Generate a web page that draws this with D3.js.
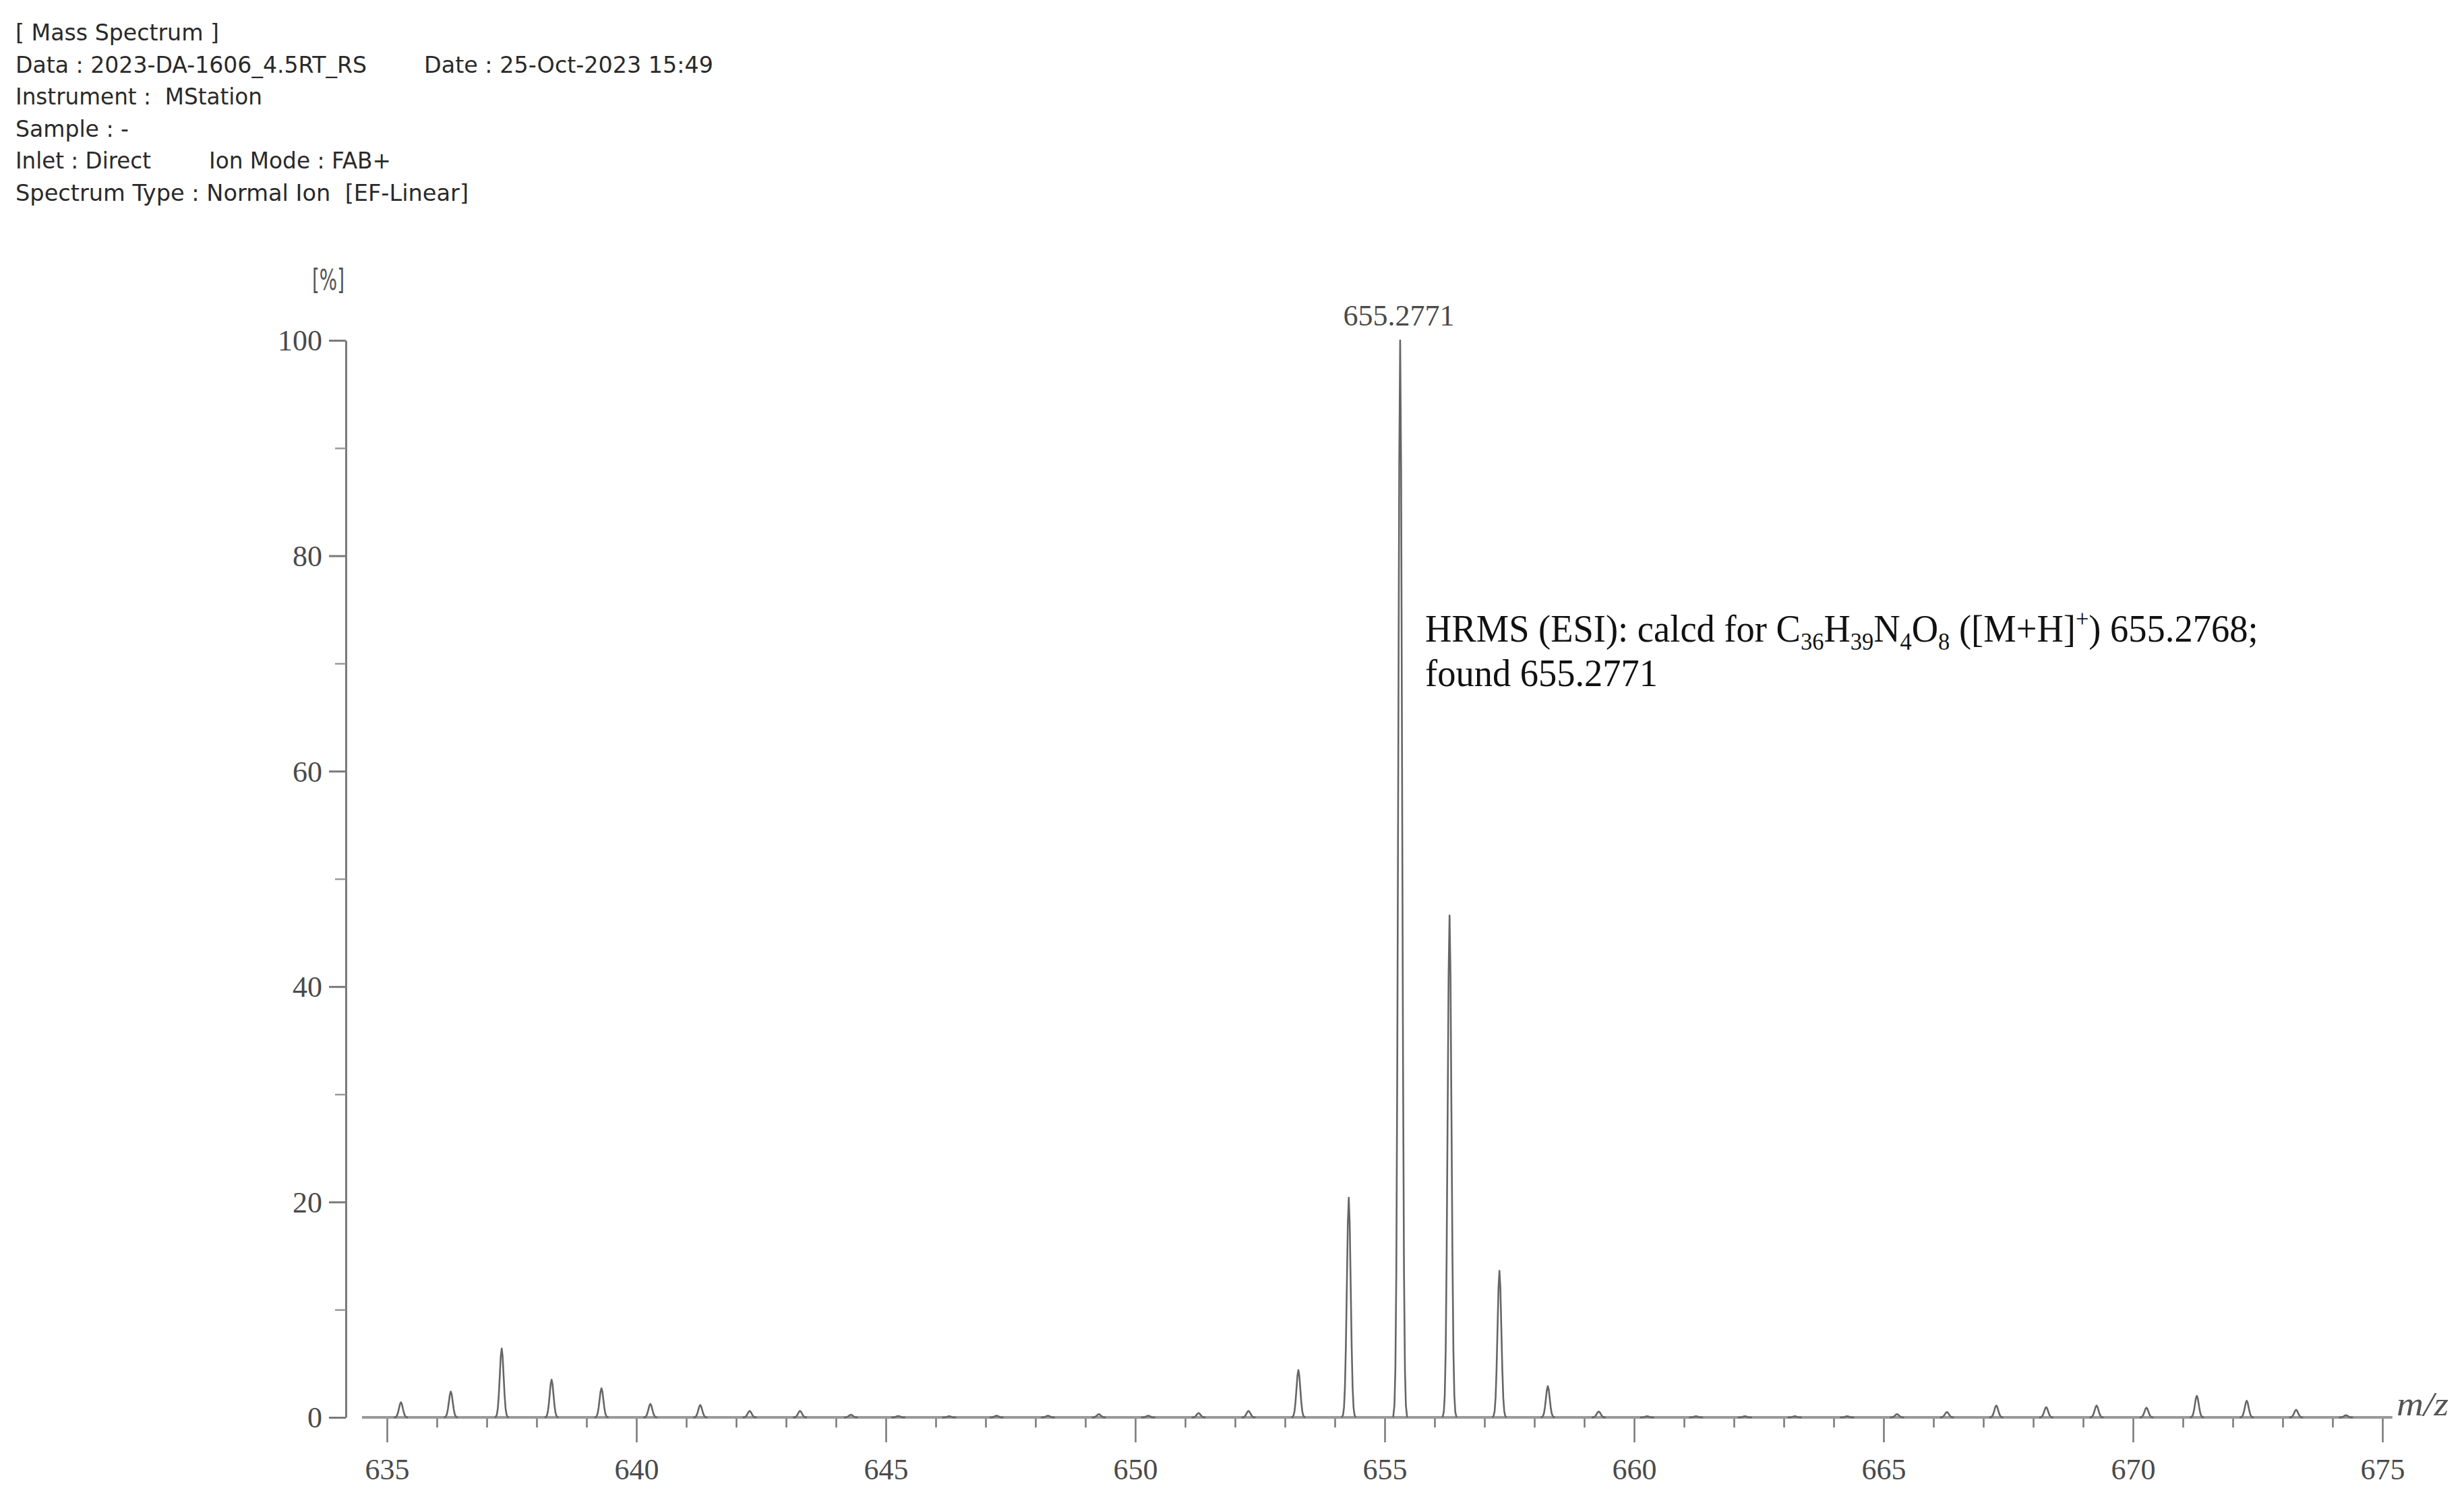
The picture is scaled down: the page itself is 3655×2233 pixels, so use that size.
<!DOCTYPE html>
<html>
<head>
<meta charset="utf-8">
<script src="https://cdn.jsdelivr.net/npm/d3@7"></script>
<style>
  html, body { margin: 0; padding: 0; background: #fff; }
  svg { display: block; }
  .hdr { font-family: "DejaVu Sans", sans-serif; font-size: 33px; fill: #2a2a2a; white-space: pre; }
  .tick text { font-family: "Liberation Serif", "Times New Roman", serif; font-size: 44px; fill: #4a4a4a; }
  .note { font-family: "Liberation Serif", "Times New Roman", serif; font-size: 57px; fill: #111; }
</style>
</head>
<body>
<svg id="chart"></svg>
<script>
// header texts of the instrument printout
const headerLeft = [
  "[ Mass Spectrum ]",
  "Data : 2023-DA-1606_4.5RT_RS",
  "Instrument :  MStation",
  "Sample : -",
  "Inlet : Direct",
  "Spectrum Type : Normal Ion  [EF-Linear]"
]
const headerRight = ["", "Date : 25-Oct-2023 15:49", "", "", "Ion Mode : FAB+", ""]

// centroid peaks (m/z, relative intensity %)
const peakMz = [635.28, 636.28, 637.30, 638.30, 639.30, 640.28, 641.28, 642.27, 643.28, 644.30,
  645.25, 646.27, 647.22, 648.25, 649.27, 650.26, 651.27, 652.27, 653.27, 654.28,
  655.31, 656.30, 657.30, 658.27, 659.29, 660.26, 661.24, 662.22, 663.22, 664.27,
  665.27, 666.27, 667.26, 668.26, 669.27, 670.27, 671.28, 672.28, 673.27, 674.27]
const peakIntensity = [1.4, 2.4, 6.4, 3.5, 2.7, 1.25, 1.15, 0.6, 0.6, 0.25,
  0.13, 0.1, 0.15, 0.15, 0.3, 0.15, 0.4, 0.6, 4.4, 20.4,
  100, 46.6, 13.6, 2.9, 0.55, 0.1, 0.1, 0.1, 0.1, 0.1,
  0.3, 0.5, 1.1, 0.95, 1.1, 0.9, 2.0, 1.55, 0.7, 0.2]

const xMajorTicks = [635, 640, 645, 650, 655, 660, 665, 670, 675]
const xMinorTicks = d3.range(636, 675).filter(d => d % 5 != 0)
const yMajorTicks = [0, 20, 40, 60, 80, 100]
const yMinorTicks = [10, 30, 50, 70, 90]
const baseRange = [634.5, 675.2]
const topLabel = "655.2771"

const W = 3655, H = 2233
const svg = d3.select("#chart").attr("width", W).attr("height", H)

const x = d3.scaleLinear().domain([635, 675]).range([574, 3534])
const y = d3.scaleLinear().domain([0, 100]).range([2103, 505])

// header block
const hdr = svg.append("g")
headerLeft.forEach((t, i) => {
  hdr.append("text").attr("class", "hdr").attr("x", 23).attr("y", 60 + i * 47.6).text(t)
})
headerRight.forEach((t, i) => {
  if (t) hdr.append("text").attr("class", "hdr").attr("x", i == 1 ? 629 : 310).attr("y", 60 + i * 47.6).text(t)
})
// squeeze header glyphs like the printout font
const hdrWidths = { "[ Mass Spectrum ]": 302, "Data : 2023-DA-1606_4.5RT_RS": 521, "Date : 25-Oct-2023 15:49": 429,
  "Instrument :  MStation": 366, "Sample : -": 168, "Inlet : Direct": 201, "Ion Mode : FAB+": 270,
  "Spectrum Type : Normal Ion  [EF-Linear]": 672 }
hdr.selectAll("text").each(function () {
  const t = d3.select(this)
  const w = hdrWidths[t.text()]
  if (w) t.attr("textLength", w).attr("lengthAdjust", "spacingAndGlyphs")
})

// y axis
const yAxisG = svg.append("g").attr("transform", "translate(513,0)")
  .call(d3.axisLeft(y).tickValues(yMajorTicks).tickSize(25).tickSizeOuter(0).tickPadding(10))
yAxisG.select(".domain").attr("stroke", "#7a7a7a").attr("stroke-width", 3)
yAxisG.selectAll(".tick line").attr("stroke", "#7a7a7a").attr("stroke-width", 3)
yAxisG.selectAll(".tick text").attr("dy", "0.34em")
const yMinorG = svg.append("g").attr("transform", "translate(513,0)")
  .call(d3.axisLeft(y).tickValues(yMinorTicks).tickSize(16).tickFormat(""))
yMinorG.select(".domain").remove()
yMinorG.selectAll(".tick line").attr("stroke", "#999").attr("stroke-width", 2.5)

svg.append("text").attr("x", 487).attr("y", 430).attr("text-anchor", "middle")
  .attr("font-family", "DejaVu Sans, sans-serif").attr("font-size", 42).attr("fill", "#555")
  .attr("textLength", 48).attr("lengthAdjust", "spacingAndGlyphs").text("[%]")

// x axis (the spectrum baseline acts as the axis line)
const xAxisG = svg.append("g").attr("transform", `translate(0,${y(0)})`)
  .call(d3.axisBottom(x).tickValues(xMajorTicks).tickSize(37).tickPadding(24).tickFormat(d3.format("d")))
xAxisG.select(".domain").remove()
xAxisG.selectAll(".tick line").attr("stroke", "#777").attr("stroke-width", 2.5)
const xMinorG = svg.append("g").attr("transform", `translate(0,${y(0)})`)
  .call(d3.axisBottom(x).tickValues(xMinorTicks).tickSize(15).tickFormat(""))
xMinorG.select(".domain").remove()
xMinorG.selectAll(".tick line").attr("stroke", "#777").attr("stroke-width", 2.5)

svg.append("line")
  .attr("x1", x(baseRange[0])).attr("x2", x(baseRange[1]))
  .attr("y1", y(0)).attr("y2", y(0))
  .attr("stroke", "#9a9a9a").attr("stroke-width", 4)

// profile glyph for each centroid: offsets in m/z, fraction of peak height
const peakShape = [[-0.14, 0], [-0.115, 0.011], [-0.096, 0.044], [-0.077, 0.135], [-0.058, 0.325],
  [-0.038, 0.607], [-0.019, 0.882], [0, 1], [0.019, 0.882], [0.038, 0.607], [0.058, 0.325],
  [0.077, 0.135], [0.096, 0.044], [0.115, 0.011], [0.14, 0]]

const line = d3.line().x(d => x(d[0])).y(d => y(d[1]))
const peaks = peakMz.map((m, i) => ({ mz: m, h: peakIntensity[i] }))
svg.append("g").selectAll("path").data(peaks).enter().append("path")
  .attr("d", p => line(peakShape.map(s => [p.mz + s[0], s[1] * p.h])))
  .attr("fill", "none")
  .attr("stroke", "#666")
  .attr("stroke-width", 2.6)
  .attr("stroke-linejoin", "round")

// top peak label
const maxPeak = peaks[d3.maxIndex(peaks, d => d.h)]
svg.append("text").attr("x", x(maxPeak.mz) - 2).attr("y", y(maxPeak.h) - 22)
  .attr("text-anchor", "middle")
  .attr("font-family", "Liberation Serif, serif").attr("font-size", 44).attr("fill", "#4a4a4a")
  .text(topLabel)

// m/z axis title
svg.append("text").attr("x", 3555).attr("y", 2100)
  .attr("font-family", "Liberation Serif, serif").attr("font-style", "italic")
  .attr("font-size", 50).attr("fill", "#555")
  .attr("textLength", 77).attr("lengthAdjust", "spacingAndGlyphs").text("m/z")

// HRMS annotation
const note = svg.append("g").attr("transform", "translate(2114,0)")
const l1 = note.append("text").attr("class", "note").attr("y", 952)
l1.append("tspan").text("HRMS (ESI): calcd for C")
l1.append("tspan").attr("font-size", 36).attr("dy", 12).text("36")
l1.append("tspan").attr("dy", -12).text("H")
l1.append("tspan").attr("font-size", 36).attr("dy", 12).text("39")
l1.append("tspan").attr("dy", -12).text("N")
l1.append("tspan").attr("font-size", 36).attr("dy", 12).text("4")
l1.append("tspan").attr("dy", -12).text("O")
l1.append("tspan").attr("font-size", 36).attr("dy", 12).text("8")
l1.append("tspan").attr("dy", -12).text(" ([M+H]")
l1.append("tspan").attr("font-size", 36).attr("dy", -22).text("+")
l1.append("tspan").attr("dy", 22).text(") 655.2768;")
const l2 = note.append("text").attr("class", "note").attr("y", 1018).text("found 655.2771")
// fit to the measured line widths of the original
const w1 = l1.node().getComputedTextLength()
const sx = 1236 / w1
l1.attr("transform", `scale(${sx},1)`)
l2.attr("transform", `scale(${sx},1)`)
</script>
</body>
</html>
